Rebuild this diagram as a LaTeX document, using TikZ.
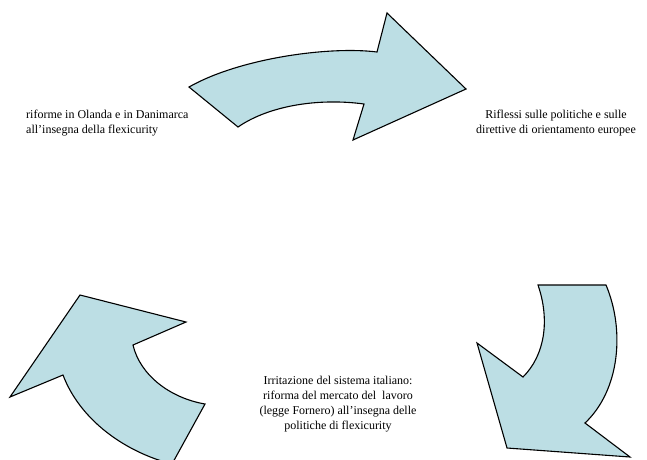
\documentclass[tikz,border=0pt]{standalone}
\usepackage{fontspec}
\setmainfont{Liberation Serif}
\usepackage{tikz, xcolor}
\definecolor{arrowblue}{RGB}{188,222,228}
\tikzset{>=stealth}
\tikzset{bigarrow/.style={draw=black, line width=1.1pt, fill=arrowblue, line join=miter},
         caption/.style={font=\fontsize{12}{15}\selectfont, inner sep=0pt}}

\begin{document}
\begin{tikzpicture}[x=1pt, y=-1pt]
    \useasboundingbox (0,0) rectangle (647,459);
    % top arrow
    \draw [bigarrow] (189,87) .. controls (240,58) and (330,46) .. (377,52)
        -- (387,13) -- (466,89) -- (353,140) -- (364,104)
        .. controls (320,98) and (270,105) .. (238,127) -- cycle;
    % right arrow
    \draw [bigarrow] (538,285) -- (606,285) .. controls (625,330) and (620,390) .. (585,423)
        -- (630,457) -- (507,448) -- (477,343) -- (523,377)
        .. controls (545,355) and (550,320) .. (538,285) -- cycle;
    % left arrow
    \draw [bigarrow] (80,295) -- (186,322) -- (133,345)
        .. controls (140,375) and (170,398) .. (205,404) -- (172,464)
        .. controls (125,452) and (80,420) .. (63,375) -- (10,397) -- cycle;
    \node [caption, align=left, anchor=north west] (reforms) at (26,110)
        {riforme in Olanda e in Danimarca\\all'insegna della flexicurity};
    \node [caption, align=center, anchor=north] (echoes) at (556,110)
        {Riflessi sulle politiche e sulle\\direttive di orientamento europee};
    \node [caption, align=center, anchor=north] (italy) at (338,376)
        {Irritazione del sistema italiano:\\riforma del mercato del \ lavoro\\(legge Fornero) all'insegna delle\\politiche di flexicurity};
\end{tikzpicture}
\end{document}
